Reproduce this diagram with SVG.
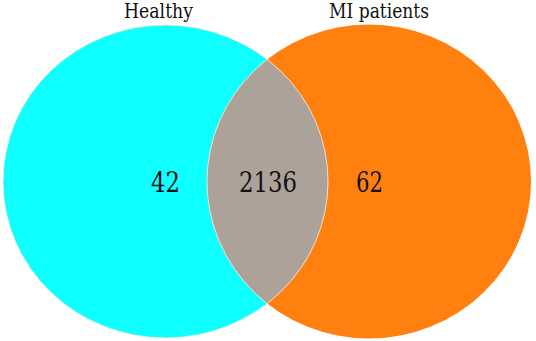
<svg xmlns="http://www.w3.org/2000/svg" width="536" height="341" viewBox="0 0 536 341">
  <style>
    text { font-family: 'DejaVu Serif', 'Liberation Serif', serif; fill: #111; }
    .title { font-size: 19.5px; }
    .num { font-size: 28.5px; }
    .edge { fill: none; stroke: #f3e9df; stroke-width: 0.9; }
  </style>
  <defs>
    <clipPath id="clipHealthy">
      <ellipse cx="165.5" cy="181.5" rx="162.5" ry="156.5"/>
    </clipPath>
  </defs>
  <rect width="536" height="341" fill="#ffffff"/>
  <g id="healthy">
    <ellipse cx="165.5" cy="181.5" rx="162.5" ry="156.5" fill="#0dffff"/>
    <text class="title" x="124" y="18" textLength="69" lengthAdjust="spacingAndGlyphs">Healthy</text>
    <text class="num" x="151" y="192" textLength="29" lengthAdjust="spacingAndGlyphs">42</text>
  </g>
  <g id="mi-patients">
    <ellipse cx="369" cy="181.5" rx="162" ry="157" fill="#ff800f"/>
    <text class="title" x="329" y="18" textLength="100" lengthAdjust="spacingAndGlyphs">MI patients</text>
    <text class="num" x="356" y="192" textLength="27" lengthAdjust="spacingAndGlyphs">62</text>
  </g>
  <g id="intersection">
    <ellipse cx="369" cy="181.5" rx="162" ry="157" fill="#ada29a" clip-path="url(#clipHealthy)"/>
    <g clip-path="url(#clipHealthy)">
      <ellipse class="edge" cx="369" cy="181.5" rx="162" ry="157"/>
    </g>
    <ellipse class="edge" cx="165.5" cy="181.5" rx="162.5" ry="156.5"/>
    <text class="num" x="239" y="192" textLength="58" lengthAdjust="spacingAndGlyphs">2136</text>
  </g>
</svg>
